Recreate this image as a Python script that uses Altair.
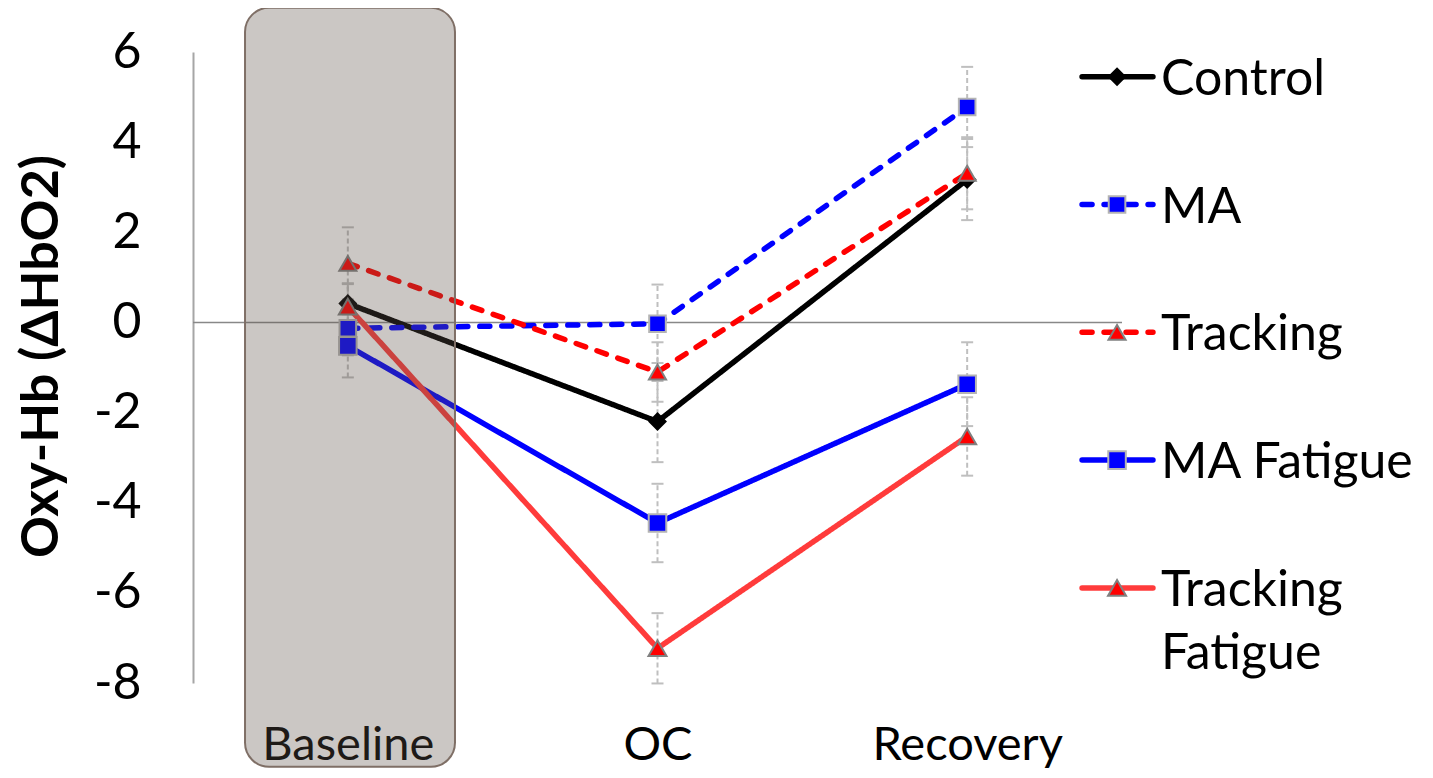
import json
import altair as alt
import pandas as pd

# ---- data ----
categories = ["Baseline", "OC", "Recovery"]
series = ["Control", "MA", "Tracking", "MA Fatigue", "Tracking Fatigue"]

control = [0.42, -2.20, 3.17]
ma = [-0.13, -0.03, 4.78]
tracking = [1.31, -1.10, 3.31]
ma_fatigue = [-0.52, -4.45, -1.37]
tracking_fatigue = [0.35, -7.23, -2.53]

control_err = [0.45, 0.90, 0.90]
ma_err = [0.60, 0.87, 0.89]
tracking_err = [0.80, 0.66, 0.80]
ma_fatigue_err = [0.70, 0.87, 0.93]
tracking_fatigue_err = [0.50, 0.78, 0.87]

y_ticks = [-8, -6, -4, -2, 0, 2, 4, 6]
legend_labels = ["Control", "MA", "Tracking", "MA Fatigue", "Tracking\nFatigue"]

# ---- styles ----
FONT = "Lato"
line_colors = ["#000000", "#0000FF", "#FF0000", "#0000FF", "#FF3B3B"]
dashes = [[1, 0], [10, 12], [10, 12], [1, 0], [1, 0]]
shapes = ["diamond", "square", "triangle-up", "square", "triangle-up"]
fills = ["#000000", "#0000FF", "#FF0000", "#0000FF", "#FF0000"]
strokes = ["#000000", "#B4B4B4", "#808080", "#B4B4B4", "#808080"]
sizes = [260, 324, 500, 324, 500]

values = [control, ma, tracking, ma_fatigue, tracking_fatigue]
errs = [control_err, ma_err, tracking_err, ma_fatigue_err, tracking_fatigue_err]

rows = []
for s, vals, es in zip(series, values, errs):
    for i, (v, e) in enumerate(zip(vals, es)):
        rows.append({"series": s, "idx": i, "value": v, "lo": v - e, "hi": v + e})
df = pd.DataFrame(rows)

X_DOMAIN = [-0.5, 2.5]
Y_DOMAIN = [-8, 6]

xscale = alt.Scale(domain=X_DOMAIN, nice=False, zero=False)
yscale = alt.Scale(domain=Y_DOMAIN, nice=False, zero=False)

color_scale = alt.Scale(domain=series, range=line_colors)
dash_scale = alt.Scale(domain=series, range=dashes)
shape_scale = alt.Scale(domain=series, range=shapes)
fill_scale = alt.Scale(domain=series, range=fills)
stroke_scale = alt.Scale(domain=series, range=strokes)
size_scale = alt.Scale(domain=series, range=sizes)

label_expr = json.dumps(categories) + "[datum.value]"

x_enc = alt.X(
    "idx:Q",
    scale=xscale,
    axis=alt.Axis(
        values=[0, 1, 2],
        labelExpr=label_expr,
        domain=False,
        ticks=False,
        tickSize=0,
        grid=False,
        labelFont=FONT,
        labelFontSize=47,
        labelColor="#000000",
        labelBaseline="alphabetic",
        labelPadding=76,
        labelLimit=600,
        labelFlush=False,
        labelOverlap=False,
        title=None,
    ),
)
y_enc = alt.Y(
    "value:Q",
    scale=yscale,
    axis=alt.Axis(
        values=y_ticks,
        labelExpr="'' + datum.value",
        domain=True,
        domainColor="#A6A6A6",
        domainWidth=2,
        ticks=False,
        tickSize=0,
        grid=False,
        labelFont=FONT,
        labelFontSize=50,
        labelColor="#000000",
        labelPadding=52,
        labelOverlap=False,
        labelFlush=False,
        title="Oxy-Hb (ΔHbO2)",
        titleFont=FONT,
        titleFontSize=52,
        titleFontWeight="bold",
        titleColor="#000000",
        titleAngle=270,
        titleAlign="center",
        titleBaseline="middle",
        titleX=-152,
        titleY=304,
        titleLimit=800,
    ),
)

base = alt.Chart(df)

# zero line
zero = alt.Chart(pd.DataFrame({"z": [0]})).mark_rule(color="#888888", strokeWidth=1.5).encode(
    y=alt.Y("z:Q", scale=yscale)
)

# error bars
err_rule = base.mark_rule(color="#BFBFBF", strokeWidth=2, strokeDash=[5, 3]).encode(
    x=alt.X("idx:Q", scale=xscale), y=alt.Y("lo:Q", scale=yscale), y2="hi:Q"
)
cap_lo = base.mark_tick(orient="horizontal", size=12, thickness=2, color="#BFBFBF", opacity=1).encode(
    x=alt.X("idx:Q", scale=xscale), y=alt.Y("lo:Q", scale=yscale)
)
cap_hi = base.mark_tick(orient="horizontal", size=12, thickness=2, color="#BFBFBF", opacity=1).encode(
    x=alt.X("idx:Q", scale=xscale), y=alt.Y("hi:Q", scale=yscale)
)

lines = base.mark_line(strokeWidth=5.5, strokeCap="round", strokeJoin="round").encode(
    x=x_enc,
    y=y_enc,
    color=alt.Color("series:N", scale=color_scale, legend=None),
    strokeDash=alt.StrokeDash("series:N", scale=dash_scale, legend=None),
    detail="series:N",
    order="idx:Q",
)

points = base.mark_point(filled=True, opacity=1, strokeWidth=2).encode(
    x=alt.X("idx:Q", scale=xscale),
    y=alt.Y("value:Q", scale=yscale),
    shape=alt.Shape("series:N", scale=shape_scale, legend=None),
    fill=alt.Fill("series:N", scale=fill_scale, legend=None),
    stroke=alt.Stroke("series:N", scale=stroke_scale, legend=None),
    size=alt.Size("series:N", scale=size_scale, legend=None),
)

# Baseline shaded (translucent) panel, in data units of the chart's scales
shade_df = pd.DataFrame({"x1": [-0.332], "x2": [0.346], "y1": [6.98], "y2": [-9.86]})
shade = alt.Chart(shade_df).mark_rect(
    fill="#5E5047", fillOpacity=0.32, stroke="#7F6F66", strokeWidth=2, strokeOpacity=1, cornerRadius=24
).encode(
    x=alt.X("x1:Q", scale=xscale), x2="x2:Q", y=alt.Y("y1:Q", scale=yscale), y2="y2:Q"
)

# manual legend (line + marker + label), placed in data units to the right
legend_top = 5.45
legend_step = -2.835
leg_df = pd.DataFrame({
    "series": series,
    "label": legend_labels,
    "ly": [legend_top + i * legend_step for i in range(len(series))],
    "lx1": [2.371] * len(series),
    "lx2": [2.600] * len(series),
    "lxm": [2.484] * len(series),
    "lxt": [2.626] * len(series),
})
leg = alt.Chart(leg_df)
leg_lines = leg.mark_rule(strokeWidth=5.5, strokeCap="round").encode(
    x=alt.X("lx1:Q", scale=xscale), x2="lx2:Q", y=alt.Y("ly:Q", scale=yscale),
    color=alt.Color("series:N", scale=color_scale, legend=None),
    strokeDash=alt.StrokeDash("series:N", scale=dash_scale, legend=None),
)
leg_points = leg.mark_point(filled=True, opacity=1, strokeWidth=2).encode(
    x=alt.X("lxm:Q", scale=xscale), y=alt.Y("ly:Q", scale=yscale),
    shape=alt.Shape("series:N", scale=shape_scale, legend=None),
    fill=alt.Fill("series:N", scale=fill_scale, legend=None),
    stroke=alt.Stroke("series:N", scale=stroke_scale, legend=None),
    size=alt.Size("series:N", scale=size_scale, legend=None),
)
leg_text = leg.mark_text(
    align="left", baseline="alphabetic", dy=18, font=FONT, fontSize=50,
    lineBreak="\n", lineHeight=63, color="#000000"
).encode(
    x=alt.X("lxt:Q", scale=xscale), y=alt.Y("ly:Q", scale=yscale), text="label:N"
)

chart = alt.layer(
    zero, err_rule, cap_lo, cap_hi, lines, points, shade, leg_lines, leg_points, leg_text
).properties(
    width=929,
    height=631,
    padding={"left": 185, "top": 44, "right": 300, "bottom": 86},
    autosize=alt.AutoSizeParams(type="none"),
    background="#FFFFFF",
).configure_view(stroke=None)

chart.save("out.html", embed_options={"renderer": "svg", "actions": False})
